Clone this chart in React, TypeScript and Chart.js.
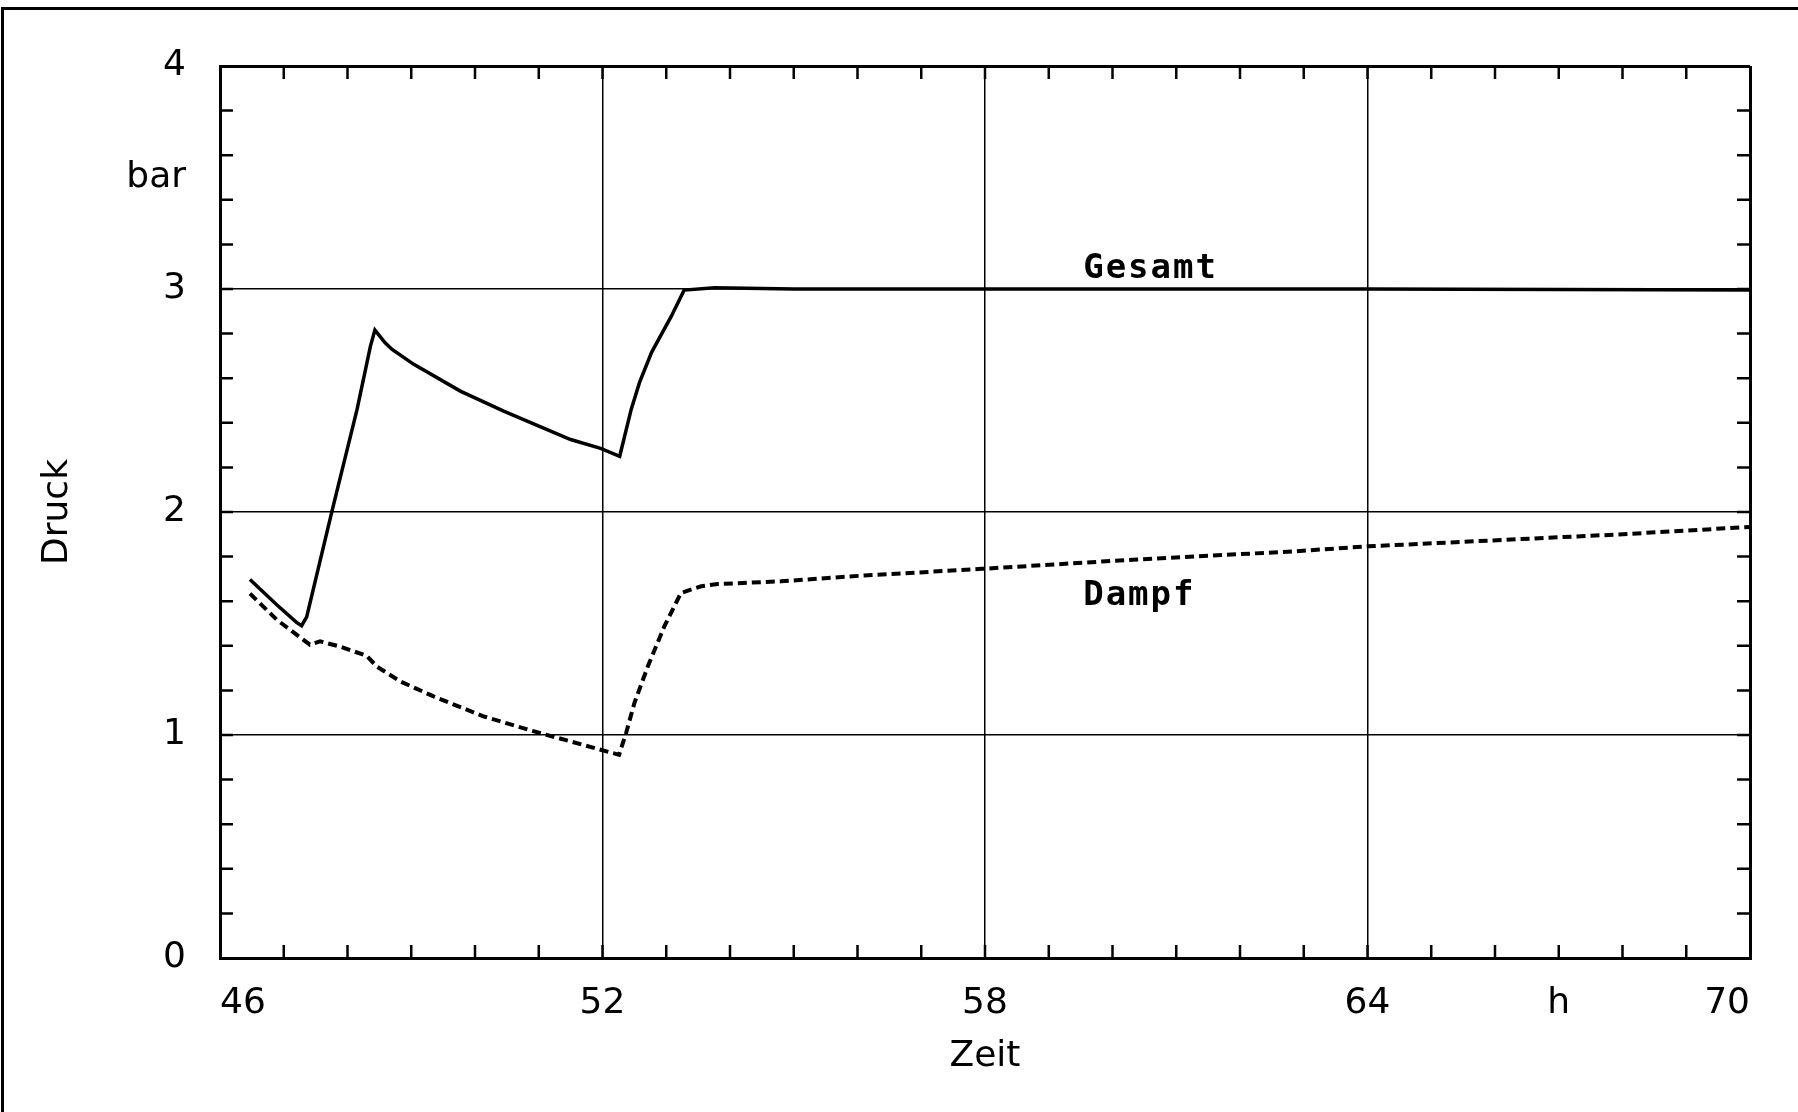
import React, { useEffect, useRef } from "react";
import { Chart, registerables } from "chart.js";

Chart.register(...registerables);

// ---- data (time in h, pressure in bar) ----
const timeGesamt = [46.47, 46.89, 47.2, 47.28, 47.36, 47.75, 48.15, 48.36, 48.43, 48.59, 48.7, 49.04, 49.77, 50.45, 51.03, 51.5, 51.97, 52.27, 52.45, 52.58, 52.77, 53.08, 53.28, 53.76, 55.0, 58.0, 64.0, 70.0];
const druckGesamt = [1.697, 1.584, 1.505, 1.49, 1.53, 1.996, 2.46, 2.744, 2.816, 2.759, 2.729, 2.662, 2.542, 2.452, 2.382, 2.325, 2.285, 2.25, 2.46, 2.58, 2.716, 2.878, 2.995, 3.006, 3.0, 3.0, 3.0, 2.995];

const timeDampf = [46.47, 46.89, 47.41, 47.57, 47.88, 48.3, 48.46, 48.83, 49.35, 50.14, 50.93, 51.97, 52.26, 52.37, 52.5, 52.71, 52.97, 53.23, 53.55, 53.81, 54.8, 55.86, 57.95, 60.31, 62.88, 64.0, 67.92, 70.0];
const druckDampf = [1.634, 1.517, 1.405, 1.42, 1.397, 1.355, 1.307, 1.24, 1.173, 1.083, 1.016, 0.934, 0.911, 1.009, 1.143, 1.307, 1.487, 1.637, 1.667, 1.677, 1.689, 1.711, 1.745, 1.786, 1.824, 1.846, 1.899, 1.933];

const seriesNames = ["Gesamt", "Dampf"];

const xTickValues = [46, 52, 58, 64, 67, 70];
const xTickLabels = ["46", "52", "58", "64", "h", "70"];
const yTickValues = [0, 1, 2, 3, 3.5, 4];
const yTickLabels = ["0", "1", "2", "3", "bar", "4"];
const xNoGrid = [67];
const yNoGrid = [3.5];

const xTitle = "Zeit";
const yTitle = "Druck";

// text labels placed in data coordinates
const labelTimes = [59.54, 59.54];
const labelDruck = [3.089, 1.624];

const FONT = '"DejaVu Sans", sans-serif';

const decorPlugin = {
  id: "decor",
  afterDraw(chart: any) {
    const { ctx, chartArea, scales } = chart;
    const { left, right, top, bottom } = chartArea;
    const x = scales.x;
    const y = scales.y;
    const L = 13;
    ctx.save();
    ctx.strokeStyle = "#000";
    ctx.lineWidth = 2.5;
    ctx.beginPath();
    for (let v = 47; v < 70; v++) {
      const px = x.getPixelForValue(v);
      ctx.moveTo(px, bottom);
      ctx.lineTo(px, bottom - L);
      ctx.moveTo(px, top);
      ctx.lineTo(px, top + L);
    }
    for (let i = 1; i < 20; i++) {
      const py = y.getPixelForValue(i * 0.2);
      ctx.moveTo(left, py);
      ctx.lineTo(left + L, py);
      ctx.moveTo(right, py);
      ctx.lineTo(right - L, py);
    }
    ctx.stroke();

    ctx.fillStyle = "#000";
    ctx.font = 'bold 34px "DejaVu Sans Mono", monospace';
    try {
      (ctx as any).letterSpacing = "2px";
    } catch (e) {}
    ctx.textAlign = "left";
    ctx.textBaseline = "middle";
    seriesNames.forEach((name, i) => {
      ctx.fillText(name, x.getPixelForValue(labelTimes[i]), y.getPixelForValue(labelDruck[i]));
    });
    ctx.restore();
  },
};

export default function App() {
  const canvasRef = useRef<HTMLCanvasElement | null>(null);

  useEffect(() => {
    if (!canvasRef.current) return;
    const chart = new Chart(canvasRef.current, {
      type: "line",
      data: {
        datasets: [
          {
            label: seriesNames[0],
            data: timeGesamt.map((t, i) => ({ x: t, y: druckGesamt[i] })),
            borderColor: "#000",
            borderWidth: 3.5,
            pointRadius: 0,
            tension: 0,
            fill: false,
          },
          {
            label: seriesNames[1],
            data: timeDampf.map((t, i) => ({ x: t, y: druckDampf[i] })),
            borderColor: "#000",
            borderWidth: 4,
            borderDash: [9, 5],
            pointRadius: 0,
            tension: 0,
            fill: false,
          },
        ],
      },
      options: {
        animation: false,
        responsive: false,
        devicePixelRatio: 1,
        layout: { padding: { left: 0, top: 66, right: 48, bottom: 0 } },
        plugins: {
          legend: { display: false },
          tooltip: { enabled: false },
        },
        scales: {
          x: {
            type: "linear",
            min: 46,
            max: 70,
            afterFit: (s: any) => {
              s.height = 154;
            },
            afterBuildTicks: (s: any) => {
              s.ticks = xTickValues.map((v) => ({ value: v }));
            },
            border: { display: true, color: "#000", width: 3 },
            grid: {
              drawTicks: false,
              color: (c: any) => (c.tick && xNoGrid.includes(c.tick.value) ? "rgba(0,0,0,0)" : "#000"),
              lineWidth: (c: any) => (c.tick && (c.tick.value === 46 || c.tick.value === 70) ? 3 : 1.5),
            },
            ticks: {
              autoSkip: false,
              maxRotation: 0,
              align: "inner",
              padding: 24,
              color: "#000",
              font: { family: FONT, size: 36 },
              callback: (_v: any, i: number) => xTickLabels[i],
            },
            title: {
              display: true,
              text: xTitle,
              color: "#000",
              font: { family: FONT, size: 36 },
              padding: { top: 0, bottom: 34 },
            },
          },
          y: {
            type: "linear",
            min: 0,
            max: 4,
            afterFit: (s: any) => {
              s.width = 220;
            },
            afterBuildTicks: (s: any) => {
              s.ticks = yTickValues.map((v) => ({ value: v }));
            },
            border: { display: true, color: "#000", width: 3 },
            grid: {
              drawTicks: false,
              color: (c: any) => (c.tick && yNoGrid.includes(c.tick.value) ? "rgba(0,0,0,0)" : "#000"),
              lineWidth: (c: any) => (c.tick && (c.tick.value === 0 || c.tick.value === 4) ? 3 : 1.5),
            },
            ticks: {
              autoSkip: false,
              padding: 34,
              color: "#000",
              font: { family: FONT, size: 36 },
              callback: (_v: any, i: number) => yTickLabels[i],
            },
            title: {
              display: true,
              text: yTitle,
              color: "#000",
              font: { family: FONT, size: 36 },
              padding: { top: 36, bottom: 0 },
            },
          },
        },
      },
      plugins: [decorPlugin],
    } as any);
    return () => chart.destroy();
  }, []);

  return (
    <div
      style={{
        position: "absolute",
        left: 0,
        top: 0,
        width: 1798,
        height: 1112,
        overflow: "hidden",
        background: "#fff",
      }}
    >
      <div
        style={{
          position: "absolute",
          left: 1,
          top: 7,
          width: 1820,
          height: 1130,
          borderLeft: "3px solid #000",
          borderTop: "3px solid #000",
        }}
      />
      <canvas
        ref={canvasRef}
        width={1798}
        height={1112}
        style={{ position: "absolute", left: 0, top: 0, width: 1798, height: 1112 }}
      />
    </div>
  );
}
